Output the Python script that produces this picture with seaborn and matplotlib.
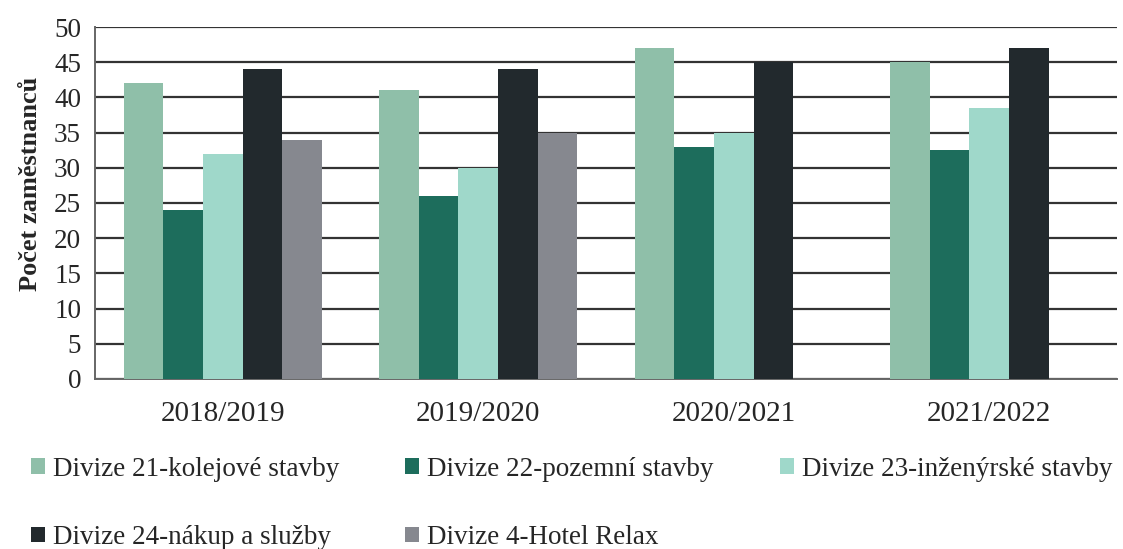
import pandas as pd
import matplotlib.pyplot as plt
import seaborn as sns
import numpy as np

# Data
roky = ["2018/2019", "2019/2020", "2020/2021", "2021/2022"]
divize = ["Divize 21-kolejové stavby", "Divize 22-pozemní stavby",
          "Divize 23-inženýrské stavby", "Divize 24-nákup a služby",
          "Divize 4-Hotel Relax"]
div21 = [42, 41, 47, 45]
div22 = [24, 26, 33, 32.5]
div23 = [32, 30, 35, 38.5]
div24 = [44, 44, 45, 47]
div4 = [34, 35, np.nan, np.nan]
barvy = ["#8fbfa9", "#1d6d5c", "#9fd8ca", "#22292d", "#86888f"]

radky = []
for d, hodnoty in zip(divize, [div21, div22, div23, div24, div4]):
    for r, h in zip(roky, hodnoty):
        radky.append({"rok": r, "divize": d, "pocet": h})
df = pd.DataFrame(radky)

sns.set_style("white")
plt.rcParams['font.family'] = ['Liberation Serif', 'DejaVu Serif']

fig = plt.figure(figsize=(11.23, 5.49), dpi=100)
ax = fig.add_axes([0.0846, 0.3097, 0.9101, 0.6411])

sns.barplot(data=df, x="rok", y="pocet", hue="divize", hue_order=divize,
            palette=barvy, width=0.775, gap=0, saturation=1, ax=ax,
            errorbar=None, linewidth=0, zorder=3)

ax.set_ylim(0, 50)
ax.set_yticks(np.arange(0, 51, 5))
ax.set_xlim(-0.5, 3.5)
ax.yaxis.grid(True, color="#333333", linewidth=1.6, zorder=0)
ax.set_axisbelow(True)
for s in ["top", "right"]:
    ax.spines[s].set_visible(False)
for s in ["left", "bottom"]:
    ax.spines[s].set_color("#666666")
    ax.spines[s].set_linewidth(1.4)

# tick marks between the groups
ax.set_xticks([-0.5, 0.5, 1.5, 2.5, 3.5], minor=True)
ax.tick_params(axis="x", which="minor", length=8, width=1.4, direction="out", color="#666666")
ax.tick_params(axis="x", which="major", length=0, labelsize=21, pad=16)
ax.tick_params(axis="y", length=7, width=1.4, direction="out", color="#666666",
               labelsize=19.5, pad=3)

ax.set_xlabel("")
ax.set_ylabel("Počet zaměstnanců", fontsize=19, fontweight="bold")
ax.yaxis.set_label_coords(-0.052, 0.555)

handles, labels = ax.get_legend_handles_labels()
ax.legend_.remove()
poradi = [0, 3, 1, 4, 2]
fig.legend([handles[i] for i in poradi], [labels[i] for i in poradi],
           loc="upper left", bbox_to_anchor=(0.018, 0.188), ncol=3,
           frameon=False, fontsize=19.5, handlelength=0.5, handleheight=0.5,
           handletextpad=0.3, columnspacing=2.45, labelspacing=1.6,
           borderaxespad=0)

plt.savefig("out.png", dpi=100)
